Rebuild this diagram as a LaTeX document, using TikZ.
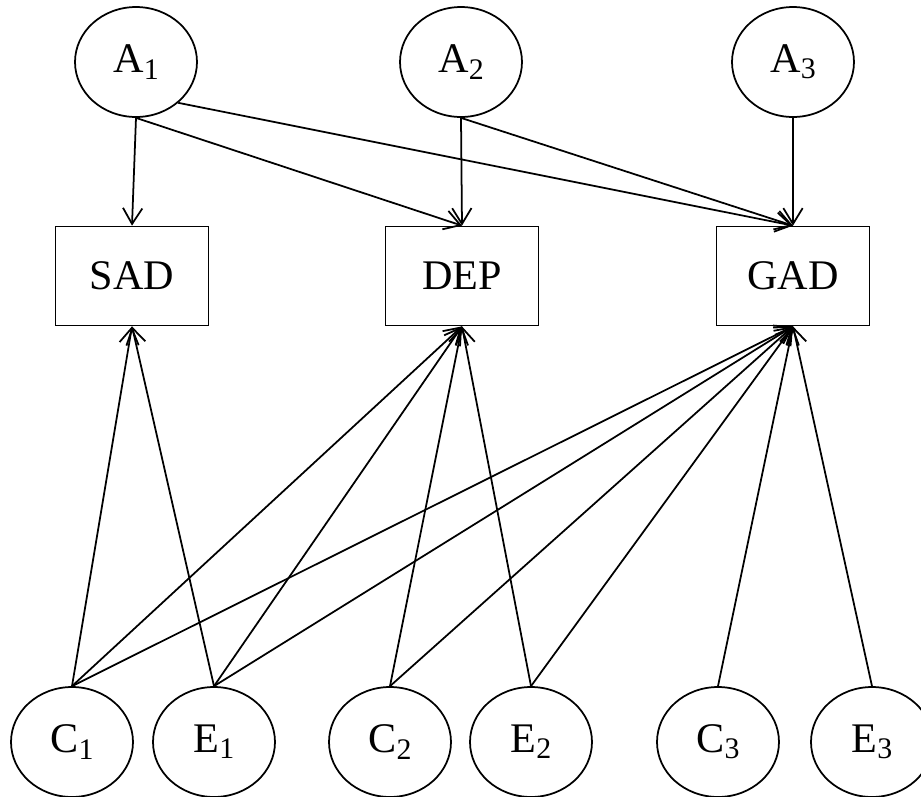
\documentclass[tikz,border=0pt]{standalone}
\usepackage{fontspec}
\setmainfont{Liberation Serif}
\usetikzlibrary{arrows.meta,shapes.geometric}
\newcommand{\subidx}[1]{{\fontsize{17}{17}\selectfont\raisebox{-3.5pt}{#1}}}

\begin{document}
\begin{tikzpicture}[x=0.02cm,y=-0.02cm,>={Straight Barb[length=9pt,width=11pt]},
  latent/.style={ellipse,draw,line width=1pt,minimum width=2.44cm,minimum height=2.2cm,
    inner sep=0pt,font=\fontsize{24}{28}\selectfont},
  pheno/.style={rectangle,draw,line width=1pt,minimum width=3.06cm,minimum height=1.98cm,
    inner sep=0pt,font=\fontsize{24}{28}\selectfont},
  path/.style={->,line width=1pt}]
\clip (0,0) rectangle (921,796);

% --- additive genetic factors ---
\foreach \i/\x in {1/136,2/461,3/793}
  \node[latent] (A\i) at (\x,62) {A\subidx{\i}};

% --- phenotypes ---
\foreach \n/\x in {SAD/132,DEP/462,GAD/793}
  \node[pheno] (\n) at (\x,276) {\n};

% --- shared and unique environment ---
\foreach \i/\xc/\xe in {1/72/214,2/390/531,3/718/872} {
  \node[latent] (C\i) at (\xc,742) {C\subidx{\i}};
  \node[latent] (E\i) at (\xe,742) {E\subidx{\i}};
}

% --- paths ---
\draw[path] (A1.south) -- (SAD.north);
\draw[path] (A1.south) -- (DEP.north);
\draw[path] (A1.-44) -- (GAD.north);
\draw[path] (A2.south) -- (DEP.north);
\draw[path] (A2.south) -- (GAD.north);
\draw[path] (A3.south) -- (GAD.north);
\foreach \s in {C1,E1} {
  \draw[path] (\s.north) -- (SAD.south);
  \draw[path] (\s.north) -- (DEP.south);
  \draw[path] (\s.north) -- (GAD.south);
}
\foreach \s in {C2,E2} {
  \draw[path] (\s.north) -- (DEP.south);
  \draw[path] (\s.north) -- (GAD.south);
}
\draw[path] (C3.north) -- (GAD.south);
\draw[path] (E3.north) -- (GAD.south);

\end{tikzpicture}
\end{document}
